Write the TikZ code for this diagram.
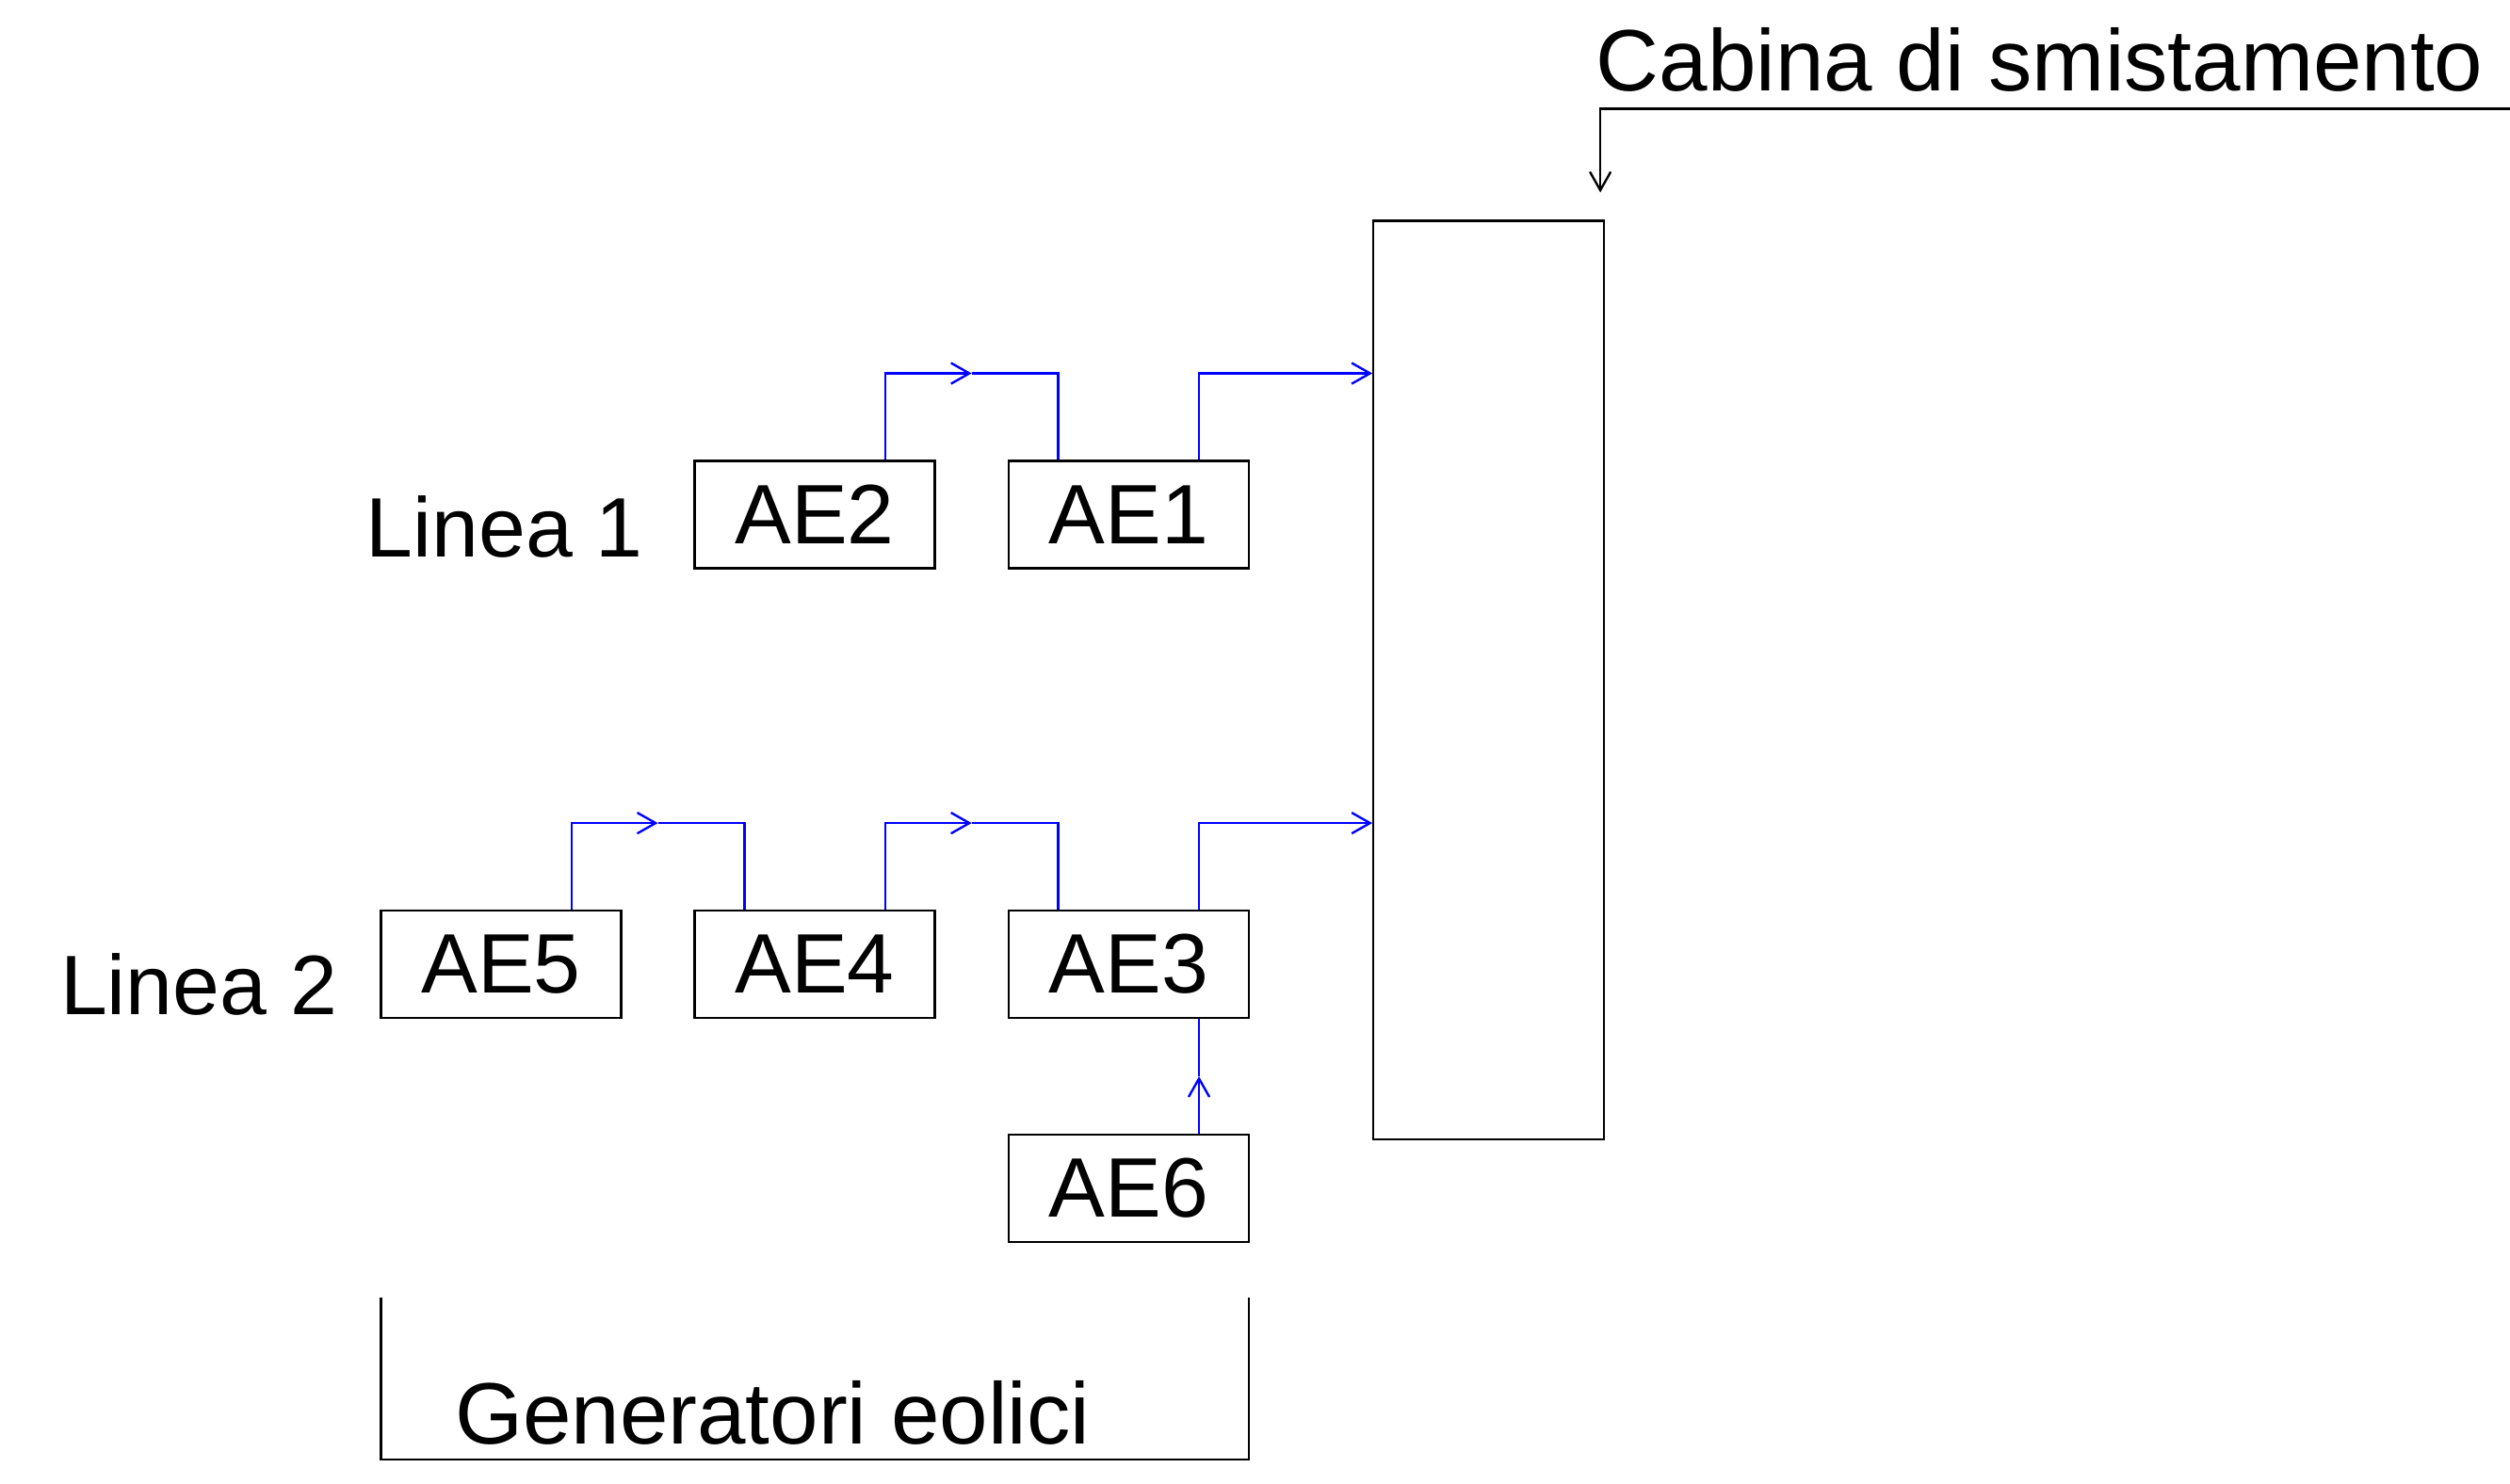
\documentclass[tikz,border=0pt]{standalone}
\usepackage{fontspec}
\setmainfont{Liberation Sans}
\usetikzlibrary{arrows.meta,calc}
\tikzset{
    gen/.style={draw,rectangle,minimum width=1.5cm,minimum height=0.67cm,inner sep=0pt,font=\fontsize{15}{18}\selectfont},
    lbl/.style={inner sep=0pt,font=\fontsize{15}{18}\selectfont},
    feed/.style={blue},
    >={Straight Barb[length=1.15mm,width=1.3mm]}
}
\begin{document}
\begin{tikzpicture}
    \useasboundingbox (0,0) rectangle (15.68,9.27);
    %% Cabina
    \node[draw,rectangle,minimum width=1.44cm,minimum height=5.74cm,inner sep=0pt] (cab) at (9.30,5.02) {};
    \node[lbl,anchor=base west,font=\fontsize{15.5}{18}\selectfont] (cabtxt) at (9.965,8.70) {Cabina di smistamento};
    \coordinate (edge) at (15.68,8.59);
    \coordinate (cabtip) at ($(cab.north east)+(-0.03,0.17)$);
    \draw[->] (edge) -| (cabtip);
    %% Generators
    \node[gen] (AE2) at (5.09,6.055) {AE2};
    \node[gen] (AE1) at (7.05,6.055) {AE1};
    \node[gen] (AE5) at (3.13,3.245) {AE5};
    \node[gen] (AE4) at (5.09,3.245) {AE4};
    \node[gen] (AE3) at (7.05,3.245) {AE3};
    \node[gen] (AE6) at (7.05,1.845) {AE6};
    \node[lbl,anchor=base west] (L1) at (2.28,5.79) {Linea 1};
    \node[lbl,anchor=base west] (L2) at (0.37,2.93) {Linea 2};
    %% Linea 1
    \coordinate (m21) at ($($(AE2.north)!0.5!(AE1.north)$)+(0,0.54)$);
    \draw[feed,->] ($(AE2.north)+(0.44,0)$) |- (m21);
    \draw[feed] (m21) -| ($(AE1.north)+(-0.44,0)$);
    \draw[feed,->] ($(AE1.north)+(0.44,0)$) |- (m21 -| cab.west);
    %% Linea 2
    \coordinate (m54) at ($($(AE5.north)!0.5!(AE4.north)$)+(0,0.54)$);
    \coordinate (m43) at ($($(AE4.north)!0.5!(AE3.north)$)+(0,0.54)$);
    \draw[feed,->] ($(AE5.north)+(0.44,0)$) |- (m54);
    \draw[feed] (m54) -| ($(AE4.north)+(-0.44,0)$);
    \draw[feed,->] ($(AE4.north)+(0.44,0)$) |- (m43);
    \draw[feed] (m43) -| ($(AE3.north)+(-0.44,0)$);
    \draw[feed,->] ($(AE3.north)+(0.44,0)$) |- (m43 -| cab.west);
    %% AE6
    \coordinate (m63) at ($($(AE6.north)!0.5!(AE3.south)$)+(0.44,0)$);
    \draw[feed,->] ($(AE6.north)+(0.44,0)$) -- (m63);
    \draw[feed] (m63) -- ($(AE3.south)+(0.44,0)$);
    %% Bracket
    \draw (2.38,1.16) |- (7.80,0.15) -- (7.80,1.16);
    \node[lbl,anchor=base west,font=\fontsize{15.5}{18}\selectfont] (gentxt) at (2.835,0.25) {Generatori eolici};
\end{tikzpicture}
\end{document}
